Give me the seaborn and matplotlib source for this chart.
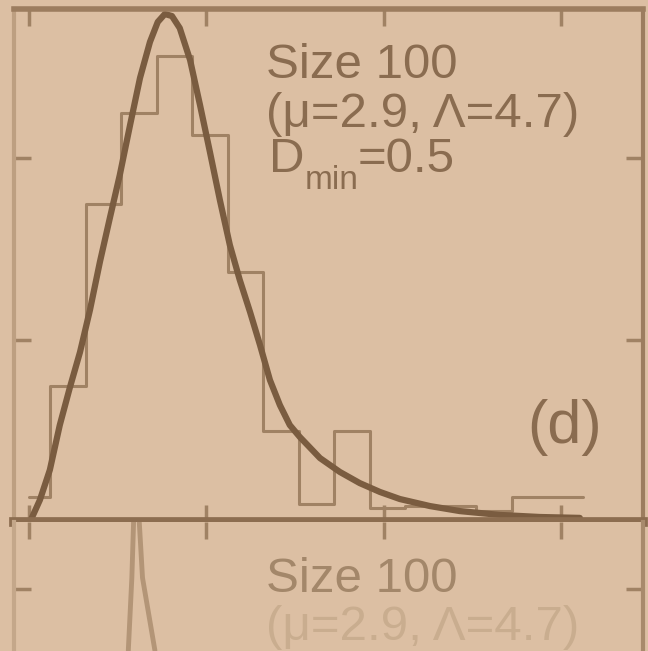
import numpy as np
import seaborn as sns
import matplotlib.pyplot as plt

# histogram of panel (d) (counts per bin)
bin_edges = [0.0, 0.6, 1.6, 2.6, 3.6, 4.6, 5.6, 6.6, 7.6, 8.6, 9.6, 10.6, 11.6, 12.6, 13.6, 14.6, 15.6]
bin_counts = [1.1, 6.0, 14.0, 18.0, 20.5, 17.0, 11.0, 4.0, 0.8, 4.0, 0.6, 0.7, 0.7, 0.5, 1.1, 1.1]

# fitted curve, points
fit_x = [0.03, 0.31, 0.59, 0.87, 1.15, 1.44, 1.72, 2.00, 2.28, 2.56, 2.85, 3.13, 3.41, 3.63, 3.83,
         4.03, 4.25, 4.54, 4.82, 5.10, 5.38, 5.66, 5.94, 6.23, 6.51, 6.79, 7.07, 7.35, 7.63, 8.20,
         8.76, 9.32, 9.89, 10.45, 11.30, 12.14, 13.27, 14.39, 15.52]
fit_y = [0.0, 0.97, 2.29, 4.26, 5.89, 7.47, 9.32, 11.43, 13.36, 15.25, 17.45, 19.52, 21.10, 21.98, 22.33,
         22.24, 21.71, 20.31, 18.33, 16.26, 14.15, 12.18, 10.64, 9.23, 7.78, 6.24, 5.14, 4.26, 3.74, 2.81,
         2.20, 1.71, 1.32, 1.01, 0.70, 0.48, 0.31, 0.22, 0.18]

# top of the next panel (only a sliver is visible)
low_x = [2.80, 2.90, 2.97, 3.07, 3.20, 3.55]
low_y = [13.3, 16.5, 20.0, 20.0, 16.5, 13.3]

labels_d = ["Size 100", "(\u03bc=2.9, \u039b=4.7)"]
dmin_parts = ["D", "min", "=0.5"]
labels_low = ["Size 100", "(\u03bc=2.9, \u039b=4.7)"]
x_ticks = [0, 5, 10, 15]
y_ticks = [0, 8, 16]

bg = "#dcbfa3"
dark = "#7a5c40"
mid = "#a08264"
txt = "#8a6c50"

sns.set_style("ticks")
plt.rcParams["font.family"] = ["Liberation Sans", "DejaVu Sans"]

fig = plt.figure(figsize=(6.48, 6.51), dpi=100, facecolor=bg)
ax = fig.add_axes([14 / 648, 129 / 651, 629 / 648, 513 / 651], facecolor=bg)
ax2 = fig.add_axes([14 / 648, (651 - 953) / 651, 629 / 648, 431 / 651], facecolor=bg)

centers = [(a + b) / 2 for a, b in zip(bin_edges[:-1], bin_edges[1:])]
sns.histplot(x=centers, weights=bin_counts, bins=bin_edges, element="step", fill=False,
             color=mid, linewidth=2.2, ax=ax)
sns.lineplot(x=fit_x, y=fit_y, color=dark, linewidth=4.5, ax=ax)
sns.lineplot(x=low_x, y=low_y, color="#b39577", linewidth=3.5, ax=ax2)

ax.set_xlim(-0.42, 17.3)
ax.set_ylim(0, 22.55)
ax2.set_xlim(-0.42, 17.3)
ax2.set_ylim(0, 18.95)

for a in (ax, ax2):
    a.set_xticks(x_ticks)
    a.set_yticks(y_ticks)
    a.set_xlabel("")
    a.set_ylabel("")
    a.tick_params(direction="in", length=12, width=2.5, color=mid,
                  top=True, right=True, labelbottom=False, labelleft=False)

ax.spines["left"].set(color="#bd9f81", linewidth=3)
ax.spines["top"].set(color="#9c7d5f", linewidth=4)
ax.spines["right"].set(color="#9c7d5f", linewidth=3)
ax.spines["bottom"].set(color="#8c6d50", linewidth=7)
ax2.spines["top"].set_visible(False)
ax2.spines["left"].set(color="#c4a78a", linewidth=3)
ax2.spines["right"].set(color="#a88a6c", linewidth=3)

for lab, yb in zip(labels_d, [0.8655, 0.770]):
    ax.text(0.401, yb, lab, transform=ax.transAxes, fontsize=35.5, color=txt, va="baseline")
# D_min with a deep subscript, as in the print
for lab, xp, yb, fs in zip(dmin_parts, [0.405, 0.462, 0.546], [0.682, 0.650, 0.682], [35.5, 24, 35.5]):
    ax.text(xp, yb, lab, transform=ax.transAxes, fontsize=fs, color=txt, va="baseline")
ax.text(0.8156, 0.154, "(d)", transform=ax.transAxes, fontsize=44, color=txt, va="baseline")

for lab, yb, c in zip(labels_low, [1 - 70 / 431, 1 - 118 / 431], ["#a3876a", "#c9ad8f"]):
    ax2.text(0.401, yb, lab, transform=ax2.transAxes, fontsize=35.5, color=c, va="baseline")

plt.savefig("out.png", dpi=100, facecolor=bg)
